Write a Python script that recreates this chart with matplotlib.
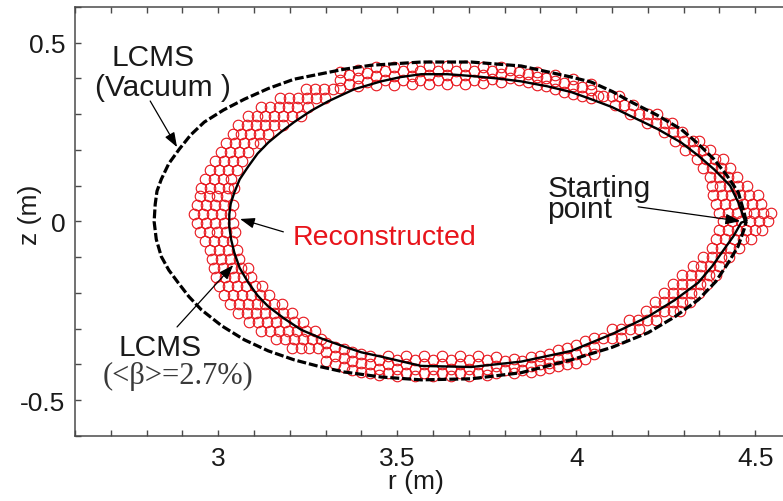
import matplotlib

matplotlib.use("Agg")
import matplotlib.pyplot as plt
from matplotlib.ticker import FormatStrFormatter, MultipleLocator

# LCMS of the vacuum field (dashed), metres
VACUUM_R = [4.475, 4.469, 4.453, 4.420, 4.385, 4.340, 4.293, 4.225, 4.154, 4.100, 4.042, 3.986,
            3.846, 3.707, 3.567, 3.427, 3.352, 3.212, 3.140, 3.073, 3.015, 2.961, 2.923, 2.891,
            2.862, 2.841, 2.829, 2.824, 2.821, 2.827, 2.841, 2.862, 2.888, 2.918, 2.953, 3.010,
            3.073, 3.140, 3.212, 3.280, 3.352, 3.455, 3.567, 3.707, 3.846, 3.986, 4.100, 4.201,
            4.275, 4.341, 4.390, 4.425, 4.452, 4.469, 4.475]
VACUUM_Z = [0.0, 0.025, 0.081, 0.130, 0.174, 0.218, 0.258, 0.298, 0.334, 0.364, 0.390, 0.404,
            0.435, 0.446, 0.446, 0.437, 0.426, 0.398, 0.372, 0.342, 0.312, 0.278, 0.242, 0.202,
            0.162, 0.118, 0.085, 0.048, 0.0, -0.050, -0.098, -0.136, -0.171, -0.210, -0.247, -0.292,
            -0.331, -0.362, -0.387, -0.405, -0.421, -0.435, -0.443, -0.440, -0.423, -0.387, -0.352,
            -0.311, -0.267, -0.219, -0.168, -0.115, -0.070, -0.022, 0.0]

# LCMS at <beta> = 2.7 % (solid)
BETA_R = [4.472, 4.453, 4.430, 4.385, 4.340, 4.293, 4.225, 4.154, 4.100, 4.042, 3.986, 3.920,
          3.846, 3.780, 3.707, 3.640, 3.567, 3.510, 3.455, 3.380, 3.307, 3.260, 3.212, 3.175,
          3.140, 3.110, 3.084, 3.060, 3.045, 3.035, 3.031, 3.031, 3.036, 3.045, 3.060, 3.084,
          3.110, 3.140, 3.185, 3.232, 3.290, 3.352, 3.400, 3.455, 3.567, 3.707, 3.846, 3.986,
          4.100, 4.201, 4.275, 4.341, 4.380, 4.413, 4.440, 4.461, 4.472]
BETA_Z = [0.0, 0.053, 0.100, 0.146, 0.185, 0.221, 0.260, 0.294, 0.320, 0.342, 0.362, 0.378,
          0.392, 0.400, 0.407, 0.412, 0.412, 0.404, 0.392, 0.370, 0.336, 0.310, 0.278, 0.250,
          0.221, 0.190, 0.154, 0.118, 0.081, 0.050, 0.020, -0.014, -0.050, -0.087, -0.130, -0.171,
          -0.207, -0.238, -0.272, -0.303, -0.328, -0.350, -0.366, -0.378, -0.404, -0.407, -0.392,
          -0.362, -0.315, -0.266, -0.220, -0.171, -0.125, -0.078, -0.040, -0.003, 0.0]

# reconstructed boundary markers, read row by row: (z, [r, ...])
RECON_LEFT = [
    (0.370, [3.245, 3.270, 3.295, 3.320]),
    (0.345, [3.172, 3.197, 3.222, 3.247, 3.272, 3.297]),
    (0.320, [3.120, 3.145, 3.170, 3.195, 3.220, 3.250]),
    (0.295, [3.082, 3.107, 3.132, 3.157, 3.182, 3.207, 3.232]),
    (0.270, [3.055, 3.080, 3.105, 3.130, 3.155, 3.180]),
    (0.245, [3.040, 3.065, 3.090, 3.115, 3.140]),
    (0.220, [3.022, 3.047, 3.072, 3.097, 3.117]),
    (0.195, [3.008, 3.033, 3.058, 3.083]),
    (0.170, [2.992, 3.017, 3.042, 3.067]),
    (0.145, [2.978, 3.003, 3.028, 3.053]),
    (0.120, [2.962, 2.987, 3.012, 3.037]),
    (0.095, [2.953, 2.978, 3.003, 3.028, 3.045]),
    (0.070, [2.948, 2.973, 2.998, 3.023]),
    (0.045, [2.940, 2.965, 2.990, 3.015, 3.040]),
    (0.020, [2.932, 2.957, 2.982, 3.007, 3.032]),
    (-0.005, [2.940, 2.965, 2.990, 3.015, 3.040]),
    (-0.030, [2.948, 2.973, 2.998, 3.023, 3.048]),
    (-0.055, [2.963, 2.988, 3.013, 3.038]),
    (-0.080, [2.977, 3.002, 3.027, 3.052]),
    (-0.105, [2.982, 3.007, 3.032, 3.057]),
    (-0.130, [2.988, 3.013, 3.038, 3.063, 3.083]),
    (-0.155, [2.993, 3.018, 3.043, 3.068, 3.093]),
    (-0.180, [3.002, 3.027, 3.052, 3.077, 3.102, 3.122]),
    (-0.205, [3.017, 3.042, 3.067, 3.092, 3.117, 3.142]),
    (-0.230, [3.032, 3.057, 3.082, 3.107, 3.132, 3.157, 3.178]),
    (-0.255, [3.055, 3.080, 3.105, 3.130, 3.155, 3.180, 3.205]),
    (-0.280, [3.087, 3.112, 3.137, 3.162, 3.187, 3.212, 3.237]),
    (-0.305, [3.120, 3.145, 3.170, 3.195, 3.220, 3.245, 3.270]),
    (-0.330, [3.162, 3.187, 3.212, 3.237, 3.262, 3.287]),
    (-0.355, [3.205, 3.230, 3.255, 3.280]),
]

RECON_RIGHT = [
    (0.350, [4.075, 4.100, 4.120]),
    (0.325, [4.108, 4.133, 4.158]),
    (0.300, [4.150, 4.175, 4.200, 4.225]),
    (0.275, [4.198, 4.223, 4.248, 4.268]),
    (0.250, [4.245, 4.270, 4.295]),
    (0.225, [4.275, 4.300, 4.325, 4.342]),
    (0.200, [4.305, 4.330, 4.355, 4.375]),
    (0.175, [4.338, 4.363, 4.388, 4.410]),
    (0.150, [4.355, 4.380, 4.405, 4.430]),
    (0.125, [4.375, 4.400, 4.425, 4.450]),
    (0.100, [4.378, 4.403, 4.428, 4.453, 4.478]),
    (0.075, [4.383, 4.408, 4.433, 4.458, 4.483, 4.508]),
    (0.050, [4.390, 4.415, 4.440, 4.465, 4.490, 4.515]),
    (0.025, [4.398, 4.423, 4.448, 4.473, 4.498, 4.523, 4.545]),
    (0.000, [4.410, 4.435, 4.460, 4.485, 4.510, 4.535]),
    (-0.025, [4.400, 4.425, 4.450, 4.475, 4.500, 4.518]),
    (-0.050, [4.390, 4.415, 4.440, 4.465, 4.488]),
    (-0.075, [4.380, 4.405, 4.430, 4.455]),
    (-0.100, [4.355, 4.380, 4.405, 4.428]),
    (-0.125, [4.325, 4.350, 4.375, 4.400]),
    (-0.150, [4.295, 4.320, 4.345, 4.370, 4.390]),
    (-0.175, [4.270, 4.295, 4.320, 4.345, 4.365]),
    (-0.200, [4.245, 4.270, 4.295, 4.320, 4.342]),
    (-0.225, [4.220, 4.245, 4.270, 4.295, 4.318]),
    (-0.250, [4.195, 4.220, 4.245, 4.270, 4.290]),
    (-0.275, [4.148, 4.173, 4.198, 4.223]),
    (-0.300, [4.100, 4.125, 4.150, 4.175]),
    (-0.325, [4.075, 4.100, 4.125]),
]

# read column by column: (r, [z, ...])
RECON_TOP = [
    (3.340, [0.372, 0.395, 0.418]),
    (3.365, [0.385, 0.410]),
    (3.390, [0.378, 0.400, 0.424]),
    (3.415, [0.390, 0.415]),
    (3.440, [0.382, 0.407, 0.431]),
    (3.465, [0.395, 0.420]),
    (3.490, [0.383, 0.408, 0.432]),
    (3.515, [0.395, 0.420]),
    (3.540, [0.384, 0.408, 0.433]),
    (3.565, [0.396, 0.421]),
    (3.590, [0.385, 0.410, 0.434]),
    (3.615, [0.397, 0.422]),
    (3.640, [0.385, 0.410, 0.434]),
    (3.665, [0.397, 0.422]),
    (3.690, [0.385, 0.410, 0.434]),
    (3.715, [0.397, 0.422]),
    (3.740, [0.386, 0.410, 0.433]),
    (3.765, [0.398, 0.422]),
    (3.790, [0.390, 0.413, 0.432]),
    (3.815, [0.400, 0.423]),
    (3.840, [0.395, 0.418]),
    (3.865, [0.390, 0.413]),
    (3.890, [0.383, 0.405, 0.418]),
    (3.915, [0.378, 0.400]),
    (3.940, [0.370, 0.392, 0.410]),
    (3.965, [0.363, 0.387]),
    (3.990, [0.356, 0.378, 0.398]),
    (4.015, [0.352, 0.375]),
    (4.040, [0.345, 0.368, 0.385]),
    (4.060, [0.352]),
]

RECON_BOTTOM = [
    (3.300, [-0.340, -0.365, -0.390]),
    (3.325, [-0.352, -0.377, -0.400]),
    (3.350, [-0.358, -0.383, -0.408]),
    (3.375, [-0.365, -0.390, -0.415]),
    (3.400, [-0.372, -0.397, -0.422]),
    (3.425, [-0.375, -0.400, -0.425]),
    (3.450, [-0.387, -0.412, -0.430]),
    (3.475, [-0.375, -0.400, -0.425]),
    (3.500, [-0.387, -0.412, -0.432]),
    (3.525, [-0.375, -0.400, -0.425]),
    (3.550, [-0.387, -0.412, -0.432]),
    (3.575, [-0.375, -0.400, -0.425]),
    (3.600, [-0.387, -0.412, -0.432]),
    (3.625, [-0.375, -0.400, -0.425]),
    (3.650, [-0.387, -0.412, -0.432]),
    (3.675, [-0.375, -0.400, -0.425]),
    (3.700, [-0.387, -0.412, -0.432]),
    (3.725, [-0.375, -0.400, -0.425]),
    (3.750, [-0.387, -0.412, -0.430]),
    (3.775, [-0.380, -0.405, -0.425]),
    (3.800, [-0.390, -0.415]),
    (3.825, [-0.384, -0.408, -0.425]),
    (3.850, [-0.390, -0.415]),
    (3.875, [-0.380, -0.405, -0.420]),
    (3.900, [-0.375, -0.400, -0.415]),
    (3.925, [-0.370, -0.395, -0.410]),
    (3.950, [-0.360, -0.385, -0.405]),
    (3.975, [-0.355, -0.380, -0.400]),
    (4.000, [-0.345, -0.370, -0.395]),
    (4.025, [-0.335, -0.360, -0.385]),
    (4.050, [-0.325, -0.350, -0.372]),
]

X_TICKS = [3.0, 3.5, 4.0, 4.5]
Y_TICKS = [-0.5, 0.0, 0.5]

COLORS = {
    "ink": "#1a1a1a",
    "spine": "#4a4a4a",
    "recon": "#e8141b",
    "serif": "#3a3a3a",
}


def recon_points():
    r, z = [], []
    for zz, rs in RECON_LEFT + RECON_RIGHT:
        r += rs
        z += [zz] * len(rs)
    for rr, zs in RECON_TOP + RECON_BOTTOM:
        r += [rr] * len(zs)
        z += zs
    return r, z


def arrow(ax, tip, tail):
    ax.annotate(
        "",
        xy=tip,
        xytext=tail,
        arrowprops=dict(
            arrowstyle="-|>,head_length=0.55,head_width=0.2",
            color="black",
            lw=0.9,
            shrinkA=0,
            shrinkB=0,
            mutation_scale=16,
        ),
        zorder=5,
    )


def main() -> None:
    plt.rcParams.update(
        {
            "font.family": ["Liberation Sans", "DejaVu Sans"],
            "axes.unicode_minus": False,
            "axes.edgecolor": COLORS["spine"],
            "axes.linewidth": 1.1,
        }
    )

    fig = plt.figure(figsize=(7.83, 5.02), dpi=100)
    ax = fig.add_axes([0.0958, 0.1295, 0.9144, 0.8546])

    rr, zz = recon_points()
    ax.plot(rr, zz, linestyle="none", marker="o", markersize=7.6,
            markerfacecolor="none", markeredgecolor=COLORS["recon"], markeredgewidth=0.8, zorder=2)
    ax.plot(VACUUM_R, VACUUM_Z, color="black", lw=2.3, linestyle=(0, (2.8, 0.9)), zorder=3)
    ax.plot(BETA_R, BETA_Z, color="black", lw=1.7, zorder=4)

    ax.set_xlim(2.6, 4.6)
    ax.set_ylim(-0.6, 0.6)
    ax.set_xticks(X_TICKS)
    ax.set_yticks(Y_TICKS)
    ax.xaxis.set_minor_locator(MultipleLocator(0.1))
    ax.yaxis.set_minor_locator(MultipleLocator(0.1))
    ax.xaxis.set_major_formatter(FormatStrFormatter("%g"))
    ax.yaxis.set_major_formatter(FormatStrFormatter("%g"))
    ax.tick_params(which="both", direction="in", length=4.5, width=1.0, color=COLORS["spine"],
                   top=True, right=False)
    ax.tick_params(which="major", labelsize=19, labelcolor=COLORS["ink"], pad=7)
    ax.spines["right"].set_visible(False)

    ax.set_xlabel("r (m)", fontsize=19, color=COLORS["ink"])
    ax.set_ylabel("z (m)", fontsize=19, color=COLORS["ink"])
    ax.xaxis.set_label_coords(0.476, -0.077)
    ax.yaxis.set_label_coords(-0.046, 0.517)

    # labels and arrows
    ax.text(2.818, 0.460, "LCMS", fontsize=21.5, color=COLORS["ink"], ha="center", va="center")
    ax.text(2.846, 0.376, "(Vacuum )", fontsize=21.5, color=COLORS["ink"], ha="center", va="center")
    arrow(ax, (2.885, 0.208), (2.810, 0.337))

    ax.text(3.207, -0.043, "Reconstructed", fontsize=20.5, color=COLORS["recon"],
            ha="left", va="center")
    arrow(ax, (3.061, 0.007), (3.182, -0.029))

    ax.text(2.838, -0.350, "LCMS", fontsize=21.5, color=COLORS["ink"], ha="center", va="center")
    ax.text(2.888, -0.430, "(<β>=2.7%)", fontsize=22, color=COLORS["serif"], ha="center",
            va="center", family=["Liberation Serif", "DejaVu Serif"])
    arrow(ax, (3.042, -0.122), (2.885, -0.295))

    ax.text(3.919, -0.005, "Starting\npoint", fontsize=21.5, color=COLORS["ink"], ha="left",
            va="bottom", linespacing=0.7)
    arrow(ax, (4.458, 0.001), (4.173, 0.041))

    fig.savefig("out.png", dpi=100)
    plt.close(fig)


if __name__ == "__main__":
    main()
